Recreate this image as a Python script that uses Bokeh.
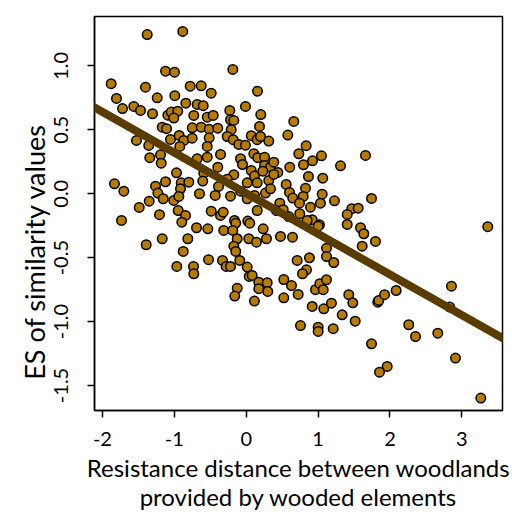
from bokeh.plotting import figure
from bokeh.models import Range1d, FixedTicker, PrintfTickFormatter, Slope, ColumnDataSource
from bokeh.embed import file_html
from bokeh.resources import INLINE

# Resistance distance (standardised) and effect size of similarity values
resistance = [
    -1.377, -0.882, -1.122, -0.997, -0.186, -1.878, -1.401, -0.779, -0.626, -1.804,
    -1.238, -0.993, -0.487, 0.157, -1.720, -1.563, -1.470, -1.303, -1.090, -1.043,
    -0.951, -1.007, -0.840, -0.682, -0.598, -0.729, -0.542, -0.459, -0.228, -0.010,
    0.203, -0.218, 0.662, -1.168, -1.108, -0.751, -0.626, -0.515, -0.395, -0.209,
    -0.172, 0.185, -1.526, -1.355, -1.053, -0.932, -0.868, -0.924, -0.751, -0.515,
    -0.542, -0.264, -0.181, -0.103, -0.010, 0.070, 0.153, 0.199, 0.314, 0.579,
    -1.341, -1.192, -1.182, -0.682, -0.542, -0.357, -0.395, -0.079, -0.051, 0.106,
    0.161, 0.255, 0.255, 0.338, 0.384, 0.440, 0.606, 0.732, 0.070, 0.115,
    0.231, 0.014, 0.153, 0.314, 0.384, -0.172, -0.264, -0.385, -0.590, -0.604,
    -0.969, -1.122, -1.832, -1.702, -1.261, -0.904, -0.798, -1.229, -1.154, -0.914,
    -0.650, -0.431, -0.218, -0.079, 0.014, 0.115, 0.268, 0.338, 0.556, 0.602,
    0.648, 0.467, -1.349, -1.488, -1.007, -0.937, -1.206, -0.946, -0.844, -0.896,
    -1.734, -0.487, -0.357, -0.320, -0.163, -0.145, 0.022, 0.050, 0.153, 0.236,
    0.421, 0.515, 0.592, -0.691, -0.534, -0.312, -0.186, 0.477, 0.644, -1.168,
    -0.812, -0.125, 0.036,
    0.834, 1.047, 0.922, 0.797, 1.312, 1.659, 0.866, 1.065, 0.825, 0.793,
    0.741, 1.057, 1.033, 0.894, 1.228, 1.469, 1.558, 1.405, 1.405, 1.743,
    0.745, 0.918, 0.848, 1.019, 1.001, 1.590, 1.636, 3.360, 1.798, 1.613,
    1.117, 1.117, 1.218, 0.880, 0.709, 0.523, 0.630, 0.839, 0.783, 0.723,
    0.523, 0.964, 1.024, 1.117, 1.071, 0.918, 1.079, 1.186, 1.427, 1.483,
    1.335, 1.516, 0.755, 1.001, 1.001, 1.210, 1.830, 1.844, 1.924, 2.086,
    2.855, 2.832, 2.261, 2.355, 2.665, 1.743, 2.911, 1.961, 1.854, 3.263,
    -1.391, -0.876, -0.965, -0.733, -0.729, -0.524, -0.172, -0.145, -0.089, -0.330,
    -0.278, -0.218, 0.014, 0.042, 0.083, 0.175, 0.292, 0.175, 0.300, -0.125,
    -0.159, 0.115, 0.143, 0.282,
]
es_similarity = [
    1.246, 1.270, 0.959, 0.951, 0.973, 0.861, 0.834, 0.842, 0.845, 0.746,
    0.751, 0.767, 0.787, 0.803, 0.667, 0.683, 0.652, 0.626, 0.615, 0.639,
    0.646, 0.592, 0.709, 0.699, 0.689, 0.613, 0.599, 0.613, 0.652, 0.683,
    0.620, 0.579, 0.566, 0.521, 0.509, 0.516, 0.521, 0.505, 0.513, 0.501,
    0.574, 0.527, 0.417, 0.378, 0.425, 0.456, 0.417, 0.370, 0.435, 0.438,
    0.370, 0.448, 0.423, 0.386, 0.380, 0.454, 0.423, 0.448, 0.412, 0.459,
    0.282, 0.305, 0.239, 0.274, 0.286, 0.308, 0.208, 0.274, 0.229, 0.313,
    0.282, 0.286, 0.221, 0.208, 0.247, 0.167, 0.208, 0.313, 0.182, 0.138,
    0.177, 0.086, 0.086, 0.104, 0.151, 0.149, 0.114, 0.057, 0.161, 0.099,
    0.164, 0.094, 0.078, 0.020, 0.059, 0.086, 0.091, 0.005, -0.039, 0.039,
    0.000, -0.013, -0.019, 0.020, -0.039, -0.013, 0.005, 0.039, 0.073, 0.010,
    -0.034, -0.074, -0.058, -0.107, -0.052, -0.021, -0.164, -0.131, -0.170, -0.222,
    -0.209, -0.136, -0.170, -0.144, -0.209, -0.230, -0.214, -0.230, -0.131, -0.274,
    -0.131, -0.125, -0.178, -0.266, -0.274, -0.287, -0.287, -0.334, -0.340, -0.352,
    -0.352, -0.352, -0.352,
    0.376, 0.297, 0.258, 0.227, 0.219, 0.300, 0.135, 0.122, 0.044, -0.021,
    -0.074, -0.003, -0.074, -0.105, -0.055, -0.117, -0.113, -0.162, -0.240, -0.037,
    -0.156, -0.203, -0.209, -0.243, -0.254, -0.266, -0.313, -0.258, -0.373, -0.410,
    -0.426, -0.491, -0.538, -0.501, -0.522, -0.671, -0.718, -0.595, -0.626, -0.788,
    -0.814, -0.751, -0.704, -0.673, -0.751, -0.882, -0.900, -0.856, -0.790, -0.853,
    -0.947, -0.997, -1.031, -1.044, -1.077, -1.056, -0.848, -0.835, -0.790, -0.757,
    -0.723, -0.887, -1.025, -1.117, -1.091, -1.174, -1.286, -1.351, -1.396, -1.599,
    -0.399, -0.451, -0.569, -0.569, -0.626, -0.516, -0.410, -0.451, -0.522, -0.522,
    -0.569, -0.569, -0.574, -0.647, -0.639, -0.692, -0.696, -0.743, -0.764, -0.739,
    -0.801, -0.840, -0.379, -0.352,
]
fit_intercept = 0.004
fit_slope = -0.318

x_ticks = [-2, -1, 0, 1, 2, 3]
y_ticks = [-1.5, -1.0, -0.5, 0.0, 0.5, 1.0]
x_title = "Resistance distance between woodlands\nprovided by wooded elements"
y_title = "ES of similarity values"

FONT = "Lato"
NB = "\u00a0"

p = figure(width=512, height=517, output_backend="svg", toolbar_location=None,
           x_range=Range1d(-2.110, 3.565), y_range=Range1d(-1.696, 1.387),
           min_border_left=94, min_border_right=10, min_border_top=16, min_border_bottom=107)
p.grid.visible = False
p.outline_line_color = "black"
p.outline_line_width = 1.5
p.background_fill_color = "white"
p.border_fill_color = "white"

src = ColumnDataSource(dict(x=resistance, y=es_similarity))
p.scatter("x", "y", source=src, size=9.5, fill_color="#b57b00",
          line_color="black", line_width=1.5)

p.add_layout(Slope(gradient=fit_slope, y_intercept=fit_intercept,
                   line_color="#5b3c00", line_width=8, line_cap="round"))

for ax in (p.xaxis[0], p.yaxis[0]):
    ax.axis_line_color = "black"
    ax.axis_line_width = 1.5
    ax.major_tick_line_color = "black"
    ax.major_tick_line_width = 1.5
    ax.major_tick_in = 0
    ax.major_tick_out = 7
    ax.minor_tick_line_color = None
    ax.major_label_text_font = FONT
    ax.major_label_text_font_size = "20px"
    ax.major_label_text_color = "black"
    ax.axis_label_text_font = FONT
    ax.axis_label_text_font_style = "normal"
    ax.axis_label_text_color = "black"

p.xaxis.ticker = FixedTicker(ticks=x_ticks)
p.yaxis.ticker = FixedTicker(ticks=y_ticks)
p.xaxis.formatter = PrintfTickFormatter(format="%d")
p.yaxis.formatter = PrintfTickFormatter(format="%.1f")
p.yaxis.major_label_orientation = "vertical"
p.xaxis.major_label_standoff = 14
p.yaxis.major_label_standoff = 19
p.xaxis.axis_label = x_title
p.yaxis.axis_label = y_title + NB * 11
p.xaxis.axis_label_text_font_size = "24px"
p.yaxis.axis_label_text_font_size = "27px"
p.xaxis.axis_label_text_line_height = 1.0
p.xaxis.axis_label_standoff = 4
p.yaxis.axis_label_standoff = 1

open("out.html", "w").write(file_html(p, INLINE))
